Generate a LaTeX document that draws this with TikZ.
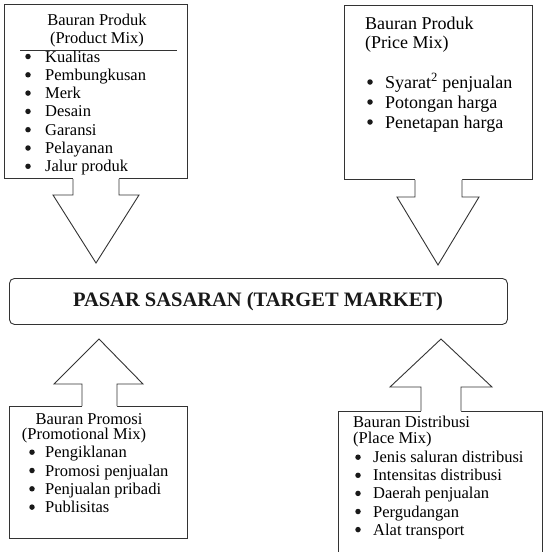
\documentclass[tikz,border=0pt]{standalone}
\usepackage{fontspec}
\setmainfont{Liberation Serif}
\begin{document}
\begin{tikzpicture}[x=1pt,y=-1pt]
\tikzset{
  boxline/.style={draw=black!80, line width=0.9pt, inner sep=0pt, anchor=north west},
  arrline/.style={draw=black!80, line width=0.9pt, line join=miter},
  txta/.style={inner sep=0pt, anchor=base west, text=black, font=\fontsize{16.5}{18}\selectfont},
  txtc/.style={inner sep=0pt, anchor=base, text=black, font=\fontsize{16.5}{18}\selectfont},
  txtb/.style={inner sep=0pt, anchor=base west, text=black, font=\fontsize{18}{20}\selectfont},
  ttl/.style={inner sep=0pt, anchor=base, text=black!90, font=\fontsize{20.5}{22}\selectfont\bfseries},
  bul/.style={circle, fill=black!90, inner sep=0pt, minimum size=5.5pt},
}
\useasboundingbox (0,0) rectangle (549,552);

% ---- boxes ----
\node[boxline, minimum width=183pt, minimum height=174pt] (prod) at (4,4) {};
\node[boxline, minimum width=188pt, minimum height=174pt] (price) at (344,5) {};
\node[boxline, rounded corners=5pt, minimum width=498pt, minimum height=46pt] (market) at (9,278) {};
\node[boxline, minimum width=178pt, minimum height=132pt] (promo) at (9,406) {};
\node[boxline, minimum width=204pt, minimum height=150pt] (dist) at (338,411) {};

% ---- arrow tips ----
\coordinate (tp) at (96,263);
\coordinate (tq) at (438,265);
\coordinate (tr) at (99,339);
\coordinate (ts) at (441,339);

% ---- block arrows ----
% product -> market
\fill[white] (73,176) -- (73,195) -- (53,195) -- (tp) -- (139,195) -- (119,195) -- (119,176) -- cycle;
\draw[arrline] (73,0 |- prod.south) -- (73,195) -- (53,195) -- (tp) -- (139,195) -- (119,195) -- (119,0 |- prod.south);
% price -> market
\fill[white] (415,177) -- (415,197) -- (397,197) -- (tq) -- (479,197) -- (462,197) -- (462,177) -- cycle;
\draw[arrline] (415,0 |- price.south) -- (415,197) -- (397,197) -- (tq) -- (479,197) -- (462,197) -- (462,0 |- price.south);
% promo -> market
\fill[white] (82,408) -- (82,384) -- (54,384) -- (tr) -- (143,384) -- (117,384) -- (117,408) -- cycle;
\draw[arrline] (82,0 |- promo.north) -- (82,384) -- (54,384) -- (tr) -- (143,384) -- (117,384) -- (117,0 |- promo.north);
% dist -> market
\fill[white] (421,413) -- (421,387) -- (390,387) -- (ts) -- (492,387) -- (461,387) -- (461,413) -- cycle;
\draw[arrline] (421,0 |- dist.north) -- (421,387) -- (390,387) -- (ts) -- (492,387) -- (461,387) -- (461,0 |- dist.north);

% ---- product mix text ----
\node[txtc] (p1) at (97,25) {Bauran Produk};
\node[txtc] (p2) at (97,43.5) {(Product Mix)};
\coordinate (pl1) at (20,50);
\coordinate (pl2) at (177,50);
\draw[black!80, line width=0.9pt] (pl1) -- (pl2);
\foreach \t [count=\i from 0] in {Kualitas,Pembungkusan,Merk,Desain,Garansi,Pelayanan,Jalur produk}{
  \node[bul] (pb\i) at (28,62-5.5+18.3*\i) {};
  \node[txta] (pi\i) at (45,62+18.3*\i) {\t};
}

% ---- price mix text ----
\node[txtb] (q1) at (365,29) {Bauran Produk};
\node[txtb] (q2) at (365,48) {(Price Mix)};
\node[bul] (qb0) at (370,88-6) {};
\node[txtb] (qi0) at (385,88) {Syarat\textsuperscript{2} penjualan};
\node[bul] (qb1) at (370,108-6) {};
\node[txtb] (qi1) at (385,108) {Potongan harga};
\node[bul] (qb2) at (370,128-6) {};
\node[txtb] (qi2) at (385,128) {Penetapan harga};

% ---- title ----
\node[ttl] (title) at (258,306.7) {PASAR SASARAN (TARGET MARKET)};

% ---- promotional mix text ----
\node[txtc] (r1) at (89,424) {Bauran Promosi};
\node[txtc] (r2) at (84,439) {(Promotional Mix)};
\foreach \t [count=\i from 0] in {Pengiklanan,Promosi penjualan,Penjualan pribadi,Publisitas}{
  \node[bul] (rb\i) at (32,457.7-5.5+18.3*\i) {};
  \node[txta] (ri\i) at (45,457.7+18.3*\i) {\t};
}

% ---- place mix text ----
\node[txta] (s1) at (353,427) {Bauran Distribusi};
\node[txta] (s2) at (353,443) {(Place Mix)};
\foreach \t [count=\i from 0] in {Jenis saluran distribusi,Intensitas distribusi,Daerah penjualan,Pergudangan,Alat transport}{
  \node[bul] (sb\i) at (358,462.7-5.5+18.1*\i) {};
  \node[txta] (si\i) at (373,462.7+18.1*\i) {\t};
}
\end{tikzpicture}
\end{document}
